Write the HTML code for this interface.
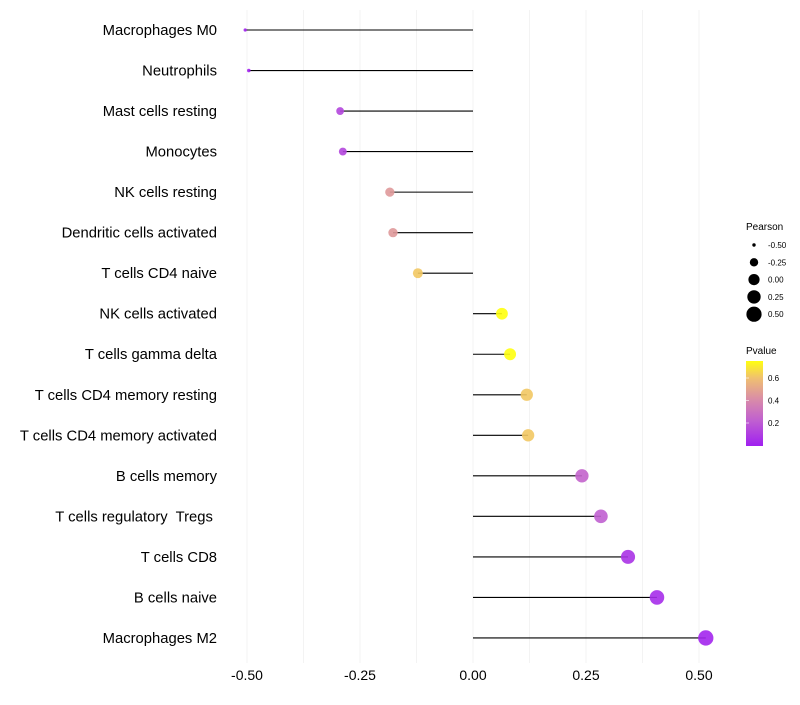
<!DOCTYPE html>
<html><head><meta charset="utf-8"><style>
body{margin:0;background:#fff;font-family:"Liberation Sans",sans-serif}
svg text{font-family:"Liberation Sans",sans-serif;white-space:pre}
</style></head><body>
<svg id="c" width="800" height="700">
<defs><linearGradient id="pg" x1="0" y1="1" x2="0" y2="0">
<stop offset="0" stop-color="#a020f0"/><stop offset="0.3" stop-color="#c060d0"/><stop offset="0.55" stop-color="#d98ca8"/><stop offset="0.8" stop-color="#f0c070"/><stop offset="1" stop-color="#ffff10"/></linearGradient></defs>
<g id="grid"></g><g id="marks"></g><g id="labels"></g><g id="legend"></g>
</svg>
<script>
const categories=["Macrophages M0","Neutrophils","Mast cells resting","Monocytes","NK cells resting","Dendritic cells activated","T cells CD4 naive","NK cells activated","T cells gamma delta","T cells CD4 memory resting","T cells CD4 memory activated","B cells memory","T cells regulatory  Tregs ","T cells CD8","B cells naive","Macrophages M2"];
const pearson=[-0.504,-0.496,-0.294,-0.288,-0.184,-0.177,-0.122,0.064,0.082,0.119,0.122,0.241,0.283,0.343,0.407,0.515];
const pvalue=[0.01,0.01,0.12,0.12,0.45,0.45,0.62,0.76,0.75,0.62,0.62,0.22,0.2,0.06,0.04,0.02];
const xTicks=[-0.5,-0.25,0,0.25,0.5];
const xTickLabels=["-0.50","-0.25","0.00","0.25","0.50"];
const sizeLegend=[-0.5,-0.25,0,0.25,0.5];
const sizeLegendLabels=["-0.50","-0.25","0.00","0.25","0.50"];
const pTicks=[0.2,0.4,0.6];
const NS="http://www.w3.org/2000/svg";
const X=v=>473+v*452;
const Y=i=>30+i*40.53;
const R=v=>0.5+7*Math.sqrt(Math.max(0,v+0.53));
const P=p=>445.5-p*112.5;
function mk(t,a,parent){const e=document.createElementNS(NS,t);for(const k in a)e.setAttribute(k,a[k]);document.getElementById(parent).appendChild(e);return e;}
const stops=[[0,[160,32,240]],[0.2,[192,96,208]],[0.4,[217,140,168]],[0.6,[240,192,112]],[0.75,[255,255,16]]];
function col(p){for(let i=1;i<stops.length;i++){if(p<=stops[i][0]){const a=stops[i-1],b=stops[i],t=(p-a[0])/(b[0]-a[0]);return "rgb("+a[1].map((c,j)=>Math.round(c+(b[1][j]-c)*t)).join(",")+")";}}return "rgb(255,255,16)";}
for(let g=-0.5;g<=0.5001;g+=0.125){
 const l=mk("line",{x1:X(g),x2:X(g),y1:10,y2:663,stroke:"#f3f3f3","stroke-width":1},"grid");
 
 
}
xTicks.forEach((t,i)=>{
 const e=mk("text",{x:X(t),y:680,"text-anchor":"middle","font-size":14,fill:"#000"},"labels");e.textContent=xTickLabels[i];
 
 
});
categories.forEach((c,i)=>{
 const e=mk("text",{x:217,y:Y(i)+5,"text-anchor":"end","font-size":14.8,fill:"#000"},"labels");e.textContent=c;
 
 
 const l=mk("line",{x1:X(0),x2:X(pearson[i]),y1:Y(i),y2:Y(i),stroke:"#000","stroke-width":1.1},"marks");
 
 
 const d=mk("circle",{cx:X(pearson[i]),cy:Y(i),r:R(pearson[i]),fill:col(pvalue[i]),"fill-opacity":0.9},"marks");
 
 
});
let t=mk("text",{x:746,y:230,"font-size":10},"legend");t.textContent="Pearson";


sizeLegend.forEach((v,i)=>{
 const y=245+i*17.3;
 const c=mk("circle",{cx:754,cy:y,r:R(v),fill:"#000"},"legend");
 
 
 const e=mk("text",{x:768,y:y+3,"font-size":8},"legend");e.textContent=sizeLegendLabels[i];
 
 
});
t=mk("text",{x:746,y:354,"font-size":10},"legend");t.textContent="Pvalue";


const bar=mk("rect",{x:746,y:361,width:17,height:85,fill:"url(#pg)"},"legend");


pTicks.forEach(p=>{
 const e=mk("text",{x:768,y:P(p)+3,"font-size":8},"legend");e.textContent=p.toFixed(1);
 
 
 const l=mk("line",{x1:746,x2:749,y1:P(p),y2:P(p),stroke:"#fff","stroke-opacity":0.6},"legend");
 
 
});
</script>
</body></html>
